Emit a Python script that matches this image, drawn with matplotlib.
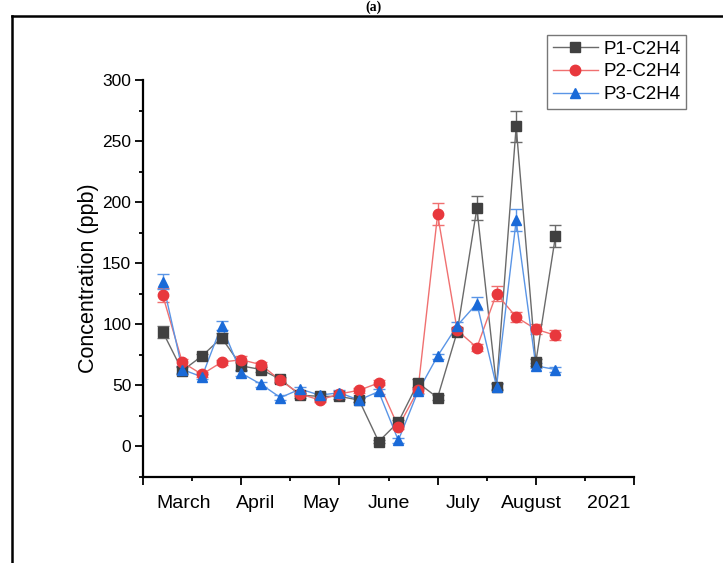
import matplotlib
matplotlib.use("Agg")
import matplotlib.pyplot as plt
from matplotlib.lines import Line2D
from matplotlib.ticker import MultipleLocator

plt.rcParams["font.family"] = ["Liberation Sans", "DejaVu Sans"]

# sampling index (1..21) and the series
sample_idx = list(range(1, 22))

p1_vals = [94, 62, 74, 89, 66, 63, 55, 42, 41, 41, 38, 4, 20, 52, 40,
           94, 195, 49, 262, 69, 172]
p1_err = [5, 3, 2, 4, 3, 2, 2, 2, 2, 2, 2, 1, 2, 3, 2,
          3, 10, 3, 13, 3, 9]

p2_vals = [124, 69, 59, 69, 71, 67, 54, 43, 38, 43, 46, 52, 16, 46, 190,
           95, 81, 125, 106, 96, 91]
p2_err = [6, 3, 2, 2, 3, 2, 2, 2, 2, 2, 2, 2, 2, 2, 9,
          3, 3, 6, 4, 4, 4]

p3_vals = [135, 63, 57, 99, 60, 51, 40, 47, 42, 44, 38, 45, 5, 45, 74,
           99, 117, 49, 185, 66, 63]
p3_err = [6, 3, 2, 4, 2, 2, 2, 2, 2, 2, 2, 2, 2, 2, 2,
          3, 5, 2, 9, 2, 2]

month_labels = ["March", "April", "May", "June", "July", "August", "2021"]
month_pos = [2.06, 5.71, 9.06, 12.5, 16.3, 19.8, 23.7]

series = [
    ("P1-C2H4", p1_vals, p1_err, "s", "#404040", "#6a6a6a"),
    ("P2-C2H4", p2_vals, p2_err, "o", "#e8383d", "#f07070"),
    ("P3-C2H4", p3_vals, p3_err, "^", "#1a6ad8", "#5a95e6"),
]

fig = plt.figure(figsize=(7.23, 5.63), dpi=100)
ax = fig.add_axes([143 / 723, 1 - 477 / 563, (634 - 143) / 723, (477 - 80) / 563])

handles = []
for name, vals, err, marker, mcol, lcol in series:
    ax.errorbar(sample_idx, vals, yerr=err, fmt="none", ecolor=lcol,
                elinewidth=1.0, capsize=4, capthick=1.0, zorder=2)
    ax.plot(sample_idx, vals, color=lcol, lw=1.0, zorder=3)
    ax.plot(sample_idx, vals, ls="none", marker=marker, ms=7.5,
            mfc=mcol, mec=mcol, zorder=4)
    handles.append(Line2D([0], [0], color=lcol, lw=1.0, marker=marker,
                          ms=7.5, mfc=mcol, mec=mcol, label=name))

ax.set_xlim(0, 25)
ax.set_ylim(-25, 300)
ax.xaxis.set_major_locator(MultipleLocator(5))
ax.xaxis.set_minor_locator(MultipleLocator(2.5))
ax.yaxis.set_major_locator(MultipleLocator(50))
ax.yaxis.set_minor_locator(MultipleLocator(25))
ax.set_xticklabels([])

for side in ["top", "right"]:
    ax.spines[side].set_visible(False)
for side in ["left", "bottom"]:
    ax.spines[side].set_linewidth(1.6)

ax.tick_params(axis="both", which="major", direction="out", length=6,
               width=1.3, labelsize=12.5, pad=2.5)
ax.tick_params(axis="both", which="minor", direction="out", length=3,
               width=1.3)

for lbl, pos in zip(month_labels, month_pos):
    ax.annotate(lbl, xy=(pos, 0), xycoords=("data", "axes fraction"),
                xytext=(0, -13), textcoords="offset points",
                ha="center", va="top", fontsize=14)

ax.set_ylabel("Concentration (ppb)", fontsize=15.5, labelpad=2)

leg = fig.legend(handles=handles, loc="upper left",
                 bbox_to_anchor=(547 / 723, 1 - 35 / 563),
                 bbox_transform=fig.transFigure, borderaxespad=0,
                 fontsize=13.5, frameon=True, fancybox=False,
                 handlelength=2.4, handletextpad=0.3, labelspacing=0.3,
                 borderpad=0.3)
leg.get_frame().set_edgecolor("#555555")
leg.get_frame().set_linewidth(1.0)

# outer panel frame, cut by the image edges
fig.add_artist(Line2D([12 / 723, 12 / 723], [0, 1 - 16 / 563],
                      color="black", lw=1.8, transform=fig.transFigure))
fig.add_artist(Line2D([12 / 723, 1], [1 - 16 / 563, 1 - 16 / 563],
                      color="black", lw=1.8, transform=fig.transFigure))
fig.text(373 / 723, 1 - 1 / 563, "(a)", ha="center", va="top",
         fontsize=10, fontweight="bold", family="Liberation Serif")

fig.savefig("out.png", dpi=100)
